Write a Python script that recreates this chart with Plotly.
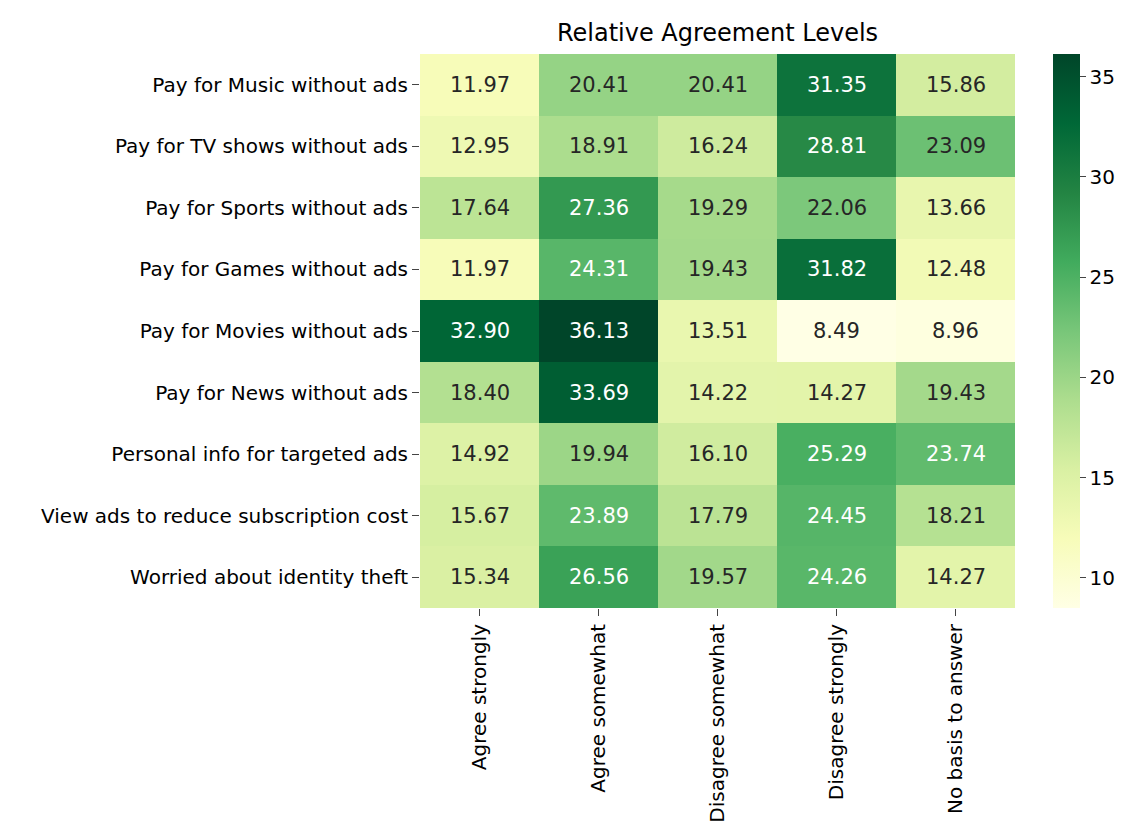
import plotly.graph_objects as go

questions = [
    "Pay for Music without ads",
    "Pay for TV shows without ads",
    "Pay for Sports without ads",
    "Pay for Games without ads",
    "Pay for Movies without ads",
    "Pay for News without ads",
    "Personal info for targeted ads",
    "View ads to reduce subscription cost",
    "Worried about identity theft",
]
answers = ["Agree strongly", "Agree somewhat", "Disagree somewhat",
           "Disagree strongly", "No basis to answer"]
values = [
    [11.97, 20.41, 20.41, 31.35, 15.86],
    [12.95, 18.91, 16.24, 28.81, 23.09],
    [17.64, 27.36, 19.29, 22.06, 13.66],
    [11.97, 24.31, 19.43, 31.82, 12.48],
    [32.90, 36.13, 13.51, 8.49, 8.96],
    [18.40, 33.69, 14.22, 14.27, 19.43],
    [14.92, 19.94, 16.10, 25.29, 23.74],
    [15.67, 23.89, 17.79, 24.45, 18.21],
    [15.34, 26.56, 19.57, 24.26, 14.27],
]

fig = go.Figure(go.Heatmap(
    z=values, x=answers, y=questions, colorscale="YlGn",
    colorbar=dict(x=1.064, xanchor="left", xpad=0, ypad=0, thickness=27,
                  len=1, lenmode="fraction", y=0.5, outlinewidth=0,
                  tickvals=[10, 15, 20, 25, 30, 35],
                  ticks="outside", ticklen=6, tickfont=dict(size=20)),
))

for i, q in enumerate(questions):
    for j, a in enumerate(answers):
        v = values[i][j]
        fig.add_annotation(x=a, y=q, text=f"{v:.2f}", showarrow=False,
                           font=dict(size=21, color="white" if v > 23.5 else "#262626"))

fig.update_layout(
    width=1128, height=837,
    margin=dict(l=412, r=121, t=46, b=237),
    plot_bgcolor="white", paper_bgcolor="white",
    font=dict(family="DejaVu Sans", size=20, color="black"),
    title=dict(text="Relative Agreement Levels", x=0.5, xref="paper",
               y=1 - 25 / 837, yanchor="middle", font=dict(size=24)),
)
fig.update_xaxes(tickangle=-90, ticks="outside", ticklen=7, showgrid=False, automargin=False)
fig.update_yaxes(autorange="reversed", ticks="outside", ticklen=7, showgrid=False, automargin=False)

fig.write_html("out.html")
